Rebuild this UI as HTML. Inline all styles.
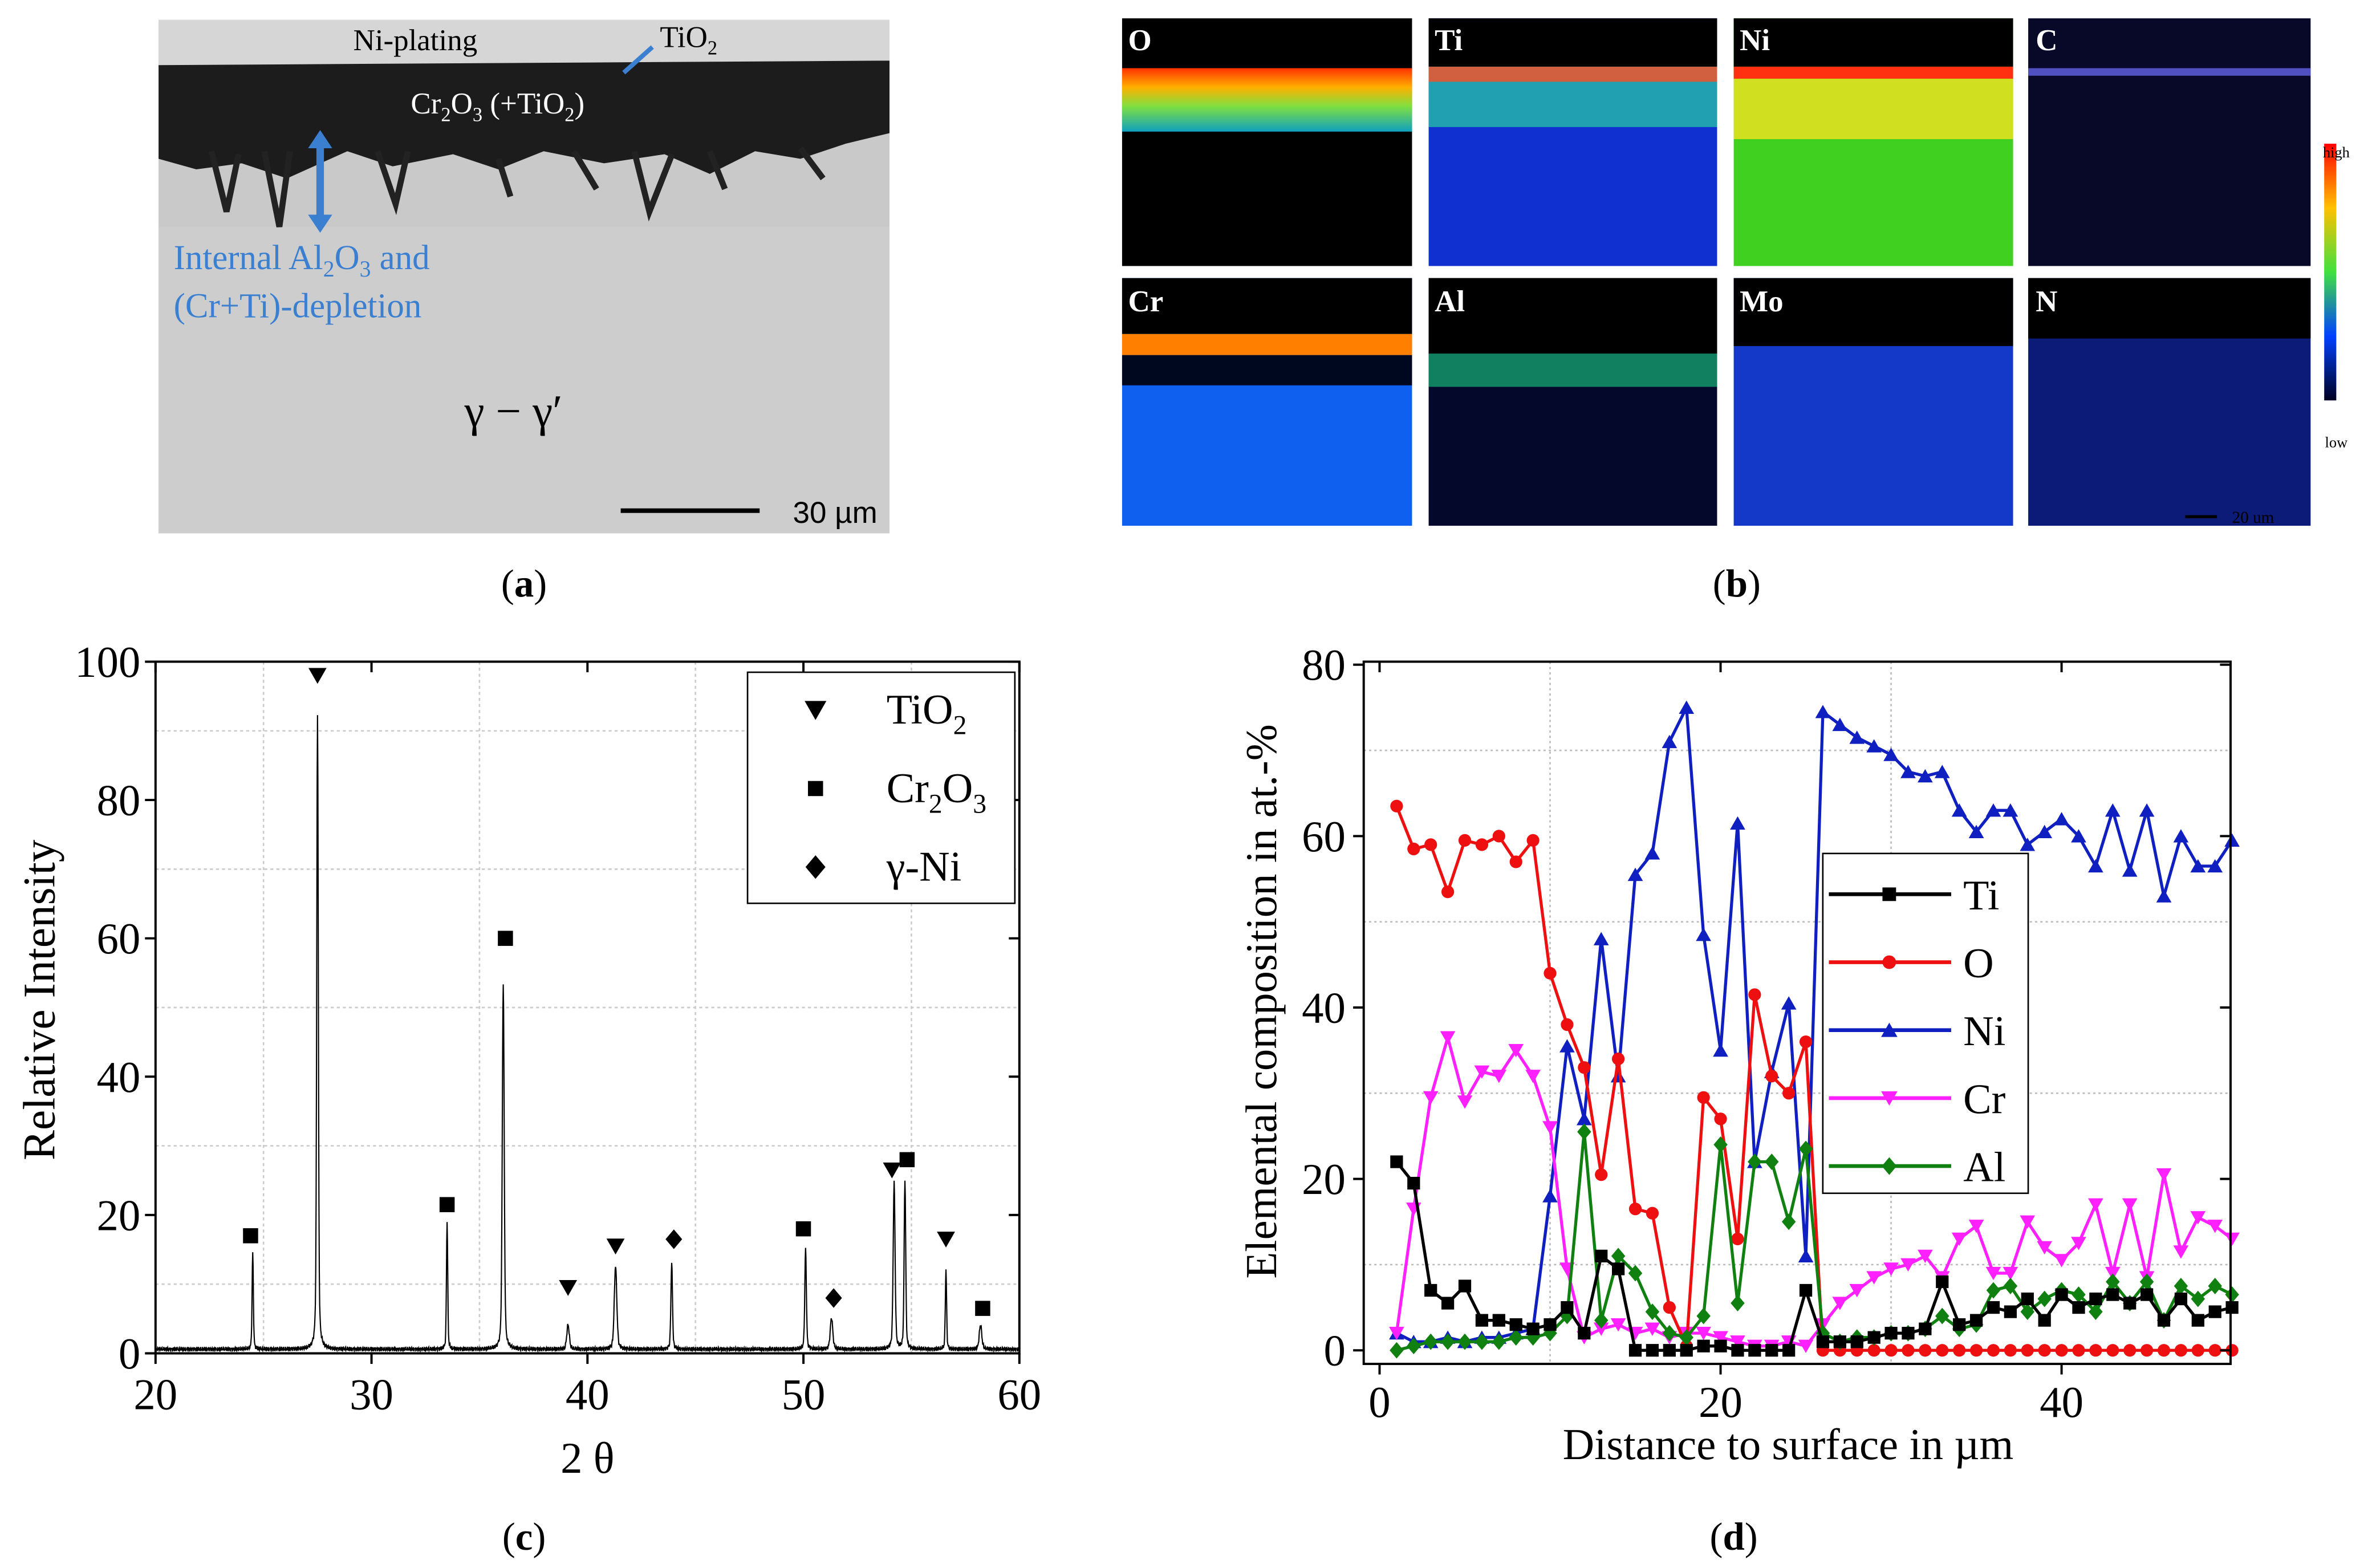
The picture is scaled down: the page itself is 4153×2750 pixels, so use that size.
<!DOCTYPE html>
<html><head><meta charset="utf-8">
<style>
html,body{margin:0;padding:0;background:#fff;}
svg{display:block;font-family:"Liberation Serif",serif;}
</style></head>
<body>
<svg id="fig" width="4153" height="2750" viewBox="0 0 1568 1038" xmlns="http://www.w3.org/2000/svg">
<defs>
<linearGradient id="gBand" x1="0" y1="0" x2="0" y2="1">
<stop offset="0" stop-color="#ff3000"/><stop offset="0.3" stop-color="#ffb000"/><stop offset="0.6" stop-color="#80e040"/><stop offset="1" stop-color="#10a0c0"/></linearGradient>
<linearGradient id="gCbar" x1="0" y1="0" x2="0" y2="1">
<stop offset="0" stop-color="#ff0000"/><stop offset="0.25" stop-color="#ffc000"/><stop offset="0.5" stop-color="#40e040"/><stop offset="0.75" stop-color="#0040ff"/><stop offset="1" stop-color="#000020"/></linearGradient>
</defs>

<!-- Panel a -->
<g>
<rect x="105" y="13" width="484" height="340" fill="#c9c9c9"/>
<rect x="105" y="13" width="484" height="30" fill="#d6d6d6"/>
<rect x="105" y="150" width="484" height="203" fill="#cdcdcd"/>
<path d="M105,43 L589,40 L589,88 L560,95 L530,105 L500,100 L470,115 L440,102 L400,108 L360,100 L330,112 L300,102 L260,110 L230,100 L190,118 L160,108 L130,112 L105,105 Z" fill="#1c1c1c"/>
<path d="M140,100 L150,140 L158,102 M175,100 L185,150 L192,100 M250,100 L262,135 L270,100 M420,100 L430,140 L445,102 M470,100 L480,125 M530,98 L545,118 M330,105 L338,130 M380,100 L395,125" stroke="#222" stroke-width="4" fill="none"/>
<text x="275" y="33" font-size="20" text-anchor="middle">Ni-plating</text>
<text x="437" y="31" font-size="20">TiO<tspan font-size="13" dy="5">2</tspan></text>
<line x1="432" y1="31" x2="413" y2="48" stroke="#3b7fd0" stroke-width="3"/>
<text x="272" y="75" font-size="20" fill="#fff">Cr<tspan font-size="13" dy="5">2</tspan><tspan dy="-5">O</tspan><tspan font-size="13" dy="5">3</tspan><tspan dy="-5"> (+TiO</tspan><tspan font-size="13" dy="5">2</tspan><tspan dy="-5">)</tspan></text>
<line x1="212" y1="94" x2="212" y2="146" stroke="#3b7fd0" stroke-width="5"/>
<path d="M204,98 L212,86 L220,98 Z M204,142 L212,154 L220,142 Z" fill="#3b7fd0"/>
<text x="115" y="178" font-size="23" fill="#3b7fd0">Internal Al<tspan font-size="15" dy="5">2</tspan><tspan dy="-5">O</tspan><tspan font-size="15" dy="5">3</tspan><tspan dy="-5"> and</tspan></text>
<text x="115" y="210" font-size="23" fill="#3b7fd0">(Cr+Ti)-depletion</text>
<text x="340" y="282" font-size="30" text-anchor="middle">γ − γ′</text>
<line x1="411" y1="338" x2="503" y2="338" stroke="#000" stroke-width="3"/>
<text x="525" y="346" font-size="20" font-family="Liberation Sans, sans-serif">30 µm</text>
</g>
<text x="347" y="395" font-size="26" text-anchor="middle">(<tspan font-weight="bold">a</tspan>)</text>

<!-- Panel b -->
<g font-family="Liberation Serif, serif" font-weight="bold">
<g><rect x="743" y="12" width="192" height="164" fill="#000"/><rect x="743" y="45" width="192" height="42" fill="url(#gBand)"/><text x="747" y="33" font-size="20" fill="#fff">O</text></g>
<g><rect x="946" y="12" width="191" height="164" fill="#1030d0"/><rect x="946" y="12" width="191" height="32" fill="#000"/><rect x="946" y="44" width="191" height="40" fill="#20a0b0"/><rect x="946" y="44" width="191" height="10" fill="#d06040"/><text x="950" y="33" font-size="20" fill="#fff">Ti</text></g>
<g><rect x="1148" y="12" width="185" height="164" fill="#40d020"/><rect x="1148" y="12" width="185" height="32" fill="#000"/><rect x="1148" y="44" width="185" height="8" fill="#ff3010"/><rect x="1148" y="52" width="185" height="40" fill="#d0e020"/><text x="1152" y="33" font-size="20" fill="#fff">Ni</text></g>
<g><rect x="1343" y="12" width="187" height="164" fill="#080828"/><rect x="1343" y="45" width="187" height="5" fill="#5050c0"/><text x="1348" y="33" font-size="20" fill="#fff">C</text></g>
<g><rect x="743" y="184" width="192" height="164" fill="#1060f0"/><rect x="743" y="184" width="192" height="37" fill="#000"/><rect x="743" y="221" width="192" height="14" fill="#ff8000"/><rect x="743" y="235" width="192" height="20" fill="#000820"/><text x="747" y="206" font-size="20" fill="#fff">Cr</text></g>
<g><rect x="946" y="184" width="191" height="164" fill="#04082a"/><rect x="946" y="184" width="191" height="50" fill="#000"/><rect x="946" y="234" width="191" height="22" fill="#108060"/><text x="950" y="206" font-size="20" fill="#fff">Al</text></g>
<g><rect x="1148" y="184" width="185" height="164" fill="#1438c8"/><rect x="1148" y="184" width="185" height="45" fill="#000"/><text x="1152" y="206" font-size="20" fill="#fff">Mo</text></g>
<g><rect x="1343" y="184" width="187" height="164" fill="#0c1a78"/><rect x="1343" y="184" width="187" height="40" fill="#000"/><text x="1348" y="206" font-size="20" fill="#fff">N</text></g>
<rect x="1539" y="95" width="8" height="170" fill="url(#gCbar)"/>
<text x="1547" y="104" font-size="10" font-weight="normal" text-anchor="middle">high</text>
<text x="1547" y="296" font-size="10" font-weight="normal" text-anchor="middle">low</text>
<line x1="1447" y1="342" x2="1468" y2="342" stroke="#000" stroke-width="2"/>
<text x="1478" y="346" font-size="11" font-weight="normal">20 um</text>
</g>
<text x="1150" y="395" font-size="26" text-anchor="middle">(<tspan font-weight="bold">b</tspan>)</text>

<!-- Panel c -->
<g id="chartC"></g>
<text x="347" y="1026" font-size="26" text-anchor="middle">(<tspan font-weight="bold">c</tspan>)</text>

<!-- Panel d -->
<g id="chartD"></g>
<text x="1148" y="1026" font-size="26" text-anchor="middle">(<tspan font-weight="bold">d</tspan>)</text>
</svg>

<script>
// ---- Panel c data ----
const xrdPeakPos = [24.5, 27.5, 33.5, 36.1, 39.1, 41.3, 43.9, 50.1, 51.3, 54.2, 54.7, 56.6, 58.2];
const xrdPeakHeight = [14, 92, 18.5, 53, 3.5, 12, 12.5, 14.5, 4.5, 24, 24.5, 11.5, 3.5];
const xrdPeakWidth = [0.04, 0.05, 0.04, 0.06, 0.08, 0.08, 0.05, 0.05, 0.08, 0.06, 0.05, 0.04, 0.08];
const markerType = ['sq','tri','sq','sq','tri','tri','dia','sq','dia','tri','sq','tri','sq'];
const markerX = [24.4, 27.5, 33.5, 36.2, 39.1, 41.3, 44.0, 50.0, 51.4, 54.1, 54.8, 56.6, 58.3];
const markerY = [17, 98, 21.5, 60, 9.5, 15.5, 16.5, 18, 8, 26.5, 28, 16.5, 6.5];
const xTicksC = [20, 30, 40, 50, 60];
const yTicksC = [0, 20, 40, 60, 80, 100];

// ---- Panel d data ----
const dist = [1,2,3,4,5,6,7,8,9,10,11,12,13,14,15,16,17,18,19,20,21,22,23,24,25,26,27,28,29,30,31,32,33,34,35,36,37,38,39,40,41,42,43,44,45,46,47,48,49,50];
const tiVals = [22,19.5,7,5.5,7.5,3.5,3.5,3,2.5,3,5,2,11,9.5,0,0,0,0,0.5,0.5,0,0,0,0,7,1,1,1,1.5,2,2,2.5,8,3,3.5,5,4.5,6,3.5,6.5,5,6,6.5,5.5,6.5,3.5,6,3.5,4.5,5];
const oVals = [63.5,58.5,59,53.5,59.5,59,60,57,59.5,44,38,33,20.5,34,16.5,16,5,0.5,29.5,27,13,41.5,32,30,36,0,0,0,0,0,0,0,0,0,0,0,0,0,0,0,0,0,0,0,0,0,0,0,0,0];
const niVals = [2,1,1,1.5,1,1.5,1.5,2,2.5,18,35.5,27,48,32,55.5,58,71,75,48.5,35,61.5,22,32.5,40.5,11,74.5,73,71.5,70.5,69.5,67.5,67,67.5,63,60.5,63,63,59,60.5,62,60,56.5,63,56,63,53,60,56.5,56.5,59.5];
const crVals = [2,16.5,29.5,36.5,29,32.5,32,35,32,26,9.5,1.5,2.5,3,2,2.5,1.5,2,2,1.5,1,0.5,0.5,1,0.5,3,5.5,7,8.5,9.5,10,11,8.5,13,14.5,9,9,15,12,10.5,12.5,17,9,17,8.5,20.5,11.5,15.5,14.5,13];
const alVals = [0,0.5,1,1,1,1,1,1.5,1.5,2,4,25.5,3.5,11,9,4.5,2,1.5,4,24,5.5,22,22,15,23.5,2,1,1.5,1.5,2,2,2.5,4,2.5,3,7,7.5,4.5,6,7,6.5,4.5,8,5.5,8,3.5,7.5,6,7.5,6.5];
const seriesNames = ['Ti','O','Ni','Cr','Al'];
const xTicksD = [0, 20, 40];
const yTicksD = [0, 20, 40, 60, 80];

const NS = 'http://www.w3.org/2000/svg';
function mk(tag, attrs, parent){const e=document.createElementNS(NS,tag);for(const k in attrs)e.setAttribute(k,attrs[k]);parent.appendChild(e);return e;}

function marker(type,x,y,s,color,parent){
  let e;
  if(type==='sq'){e=mk('rect',{x:x-s,y:y-s,width:2*s,height:2*s,fill:color},parent);}
  else if(type==='circ'){e=mk('circle',{cx:x,cy:y,r:s,fill:color},parent);}
  else if(type==='tri'){e=mk('path',{d:`M${x-s*1.2},${y-s} L${x+s*1.2},${y-s} L${x},${y+s*1.1} Z`,fill:color},parent);}
  else if(type==='triup'){e=mk('path',{d:`M${x-s*1.2},${y+s} L${x+s*1.2},${y+s} L${x},${y-s*1.1} Z`,fill:color},parent);}
  else {e=mk('path',{d:`M${x},${y-s*1.3} L${x+s*1.1},${y} L${x},${y+s*1.3} L${x-s*1.1},${y} Z`,fill:color},parent);}
  return e;
}

// ---------- Chart C ----------
(function(){
  const g=document.getElementById('chartC');
  const L=103,R=675,T=438,B=896;
  const xs=v=>L+(v-20)/40*(R-L);
  const ys=v=>B-v/100*(B-T);
  [25,35,45,55].forEach(v=>{const l=mk('line',{x1:xs(v),y1:T,x2:xs(v),y2:B,stroke:'#ccc','stroke-width':1,'stroke-dasharray':'2,2'},g);
    
    });
  [10,30,50,70,90].forEach(v=>{const l=mk('line',{x1:L,y1:ys(v),x2:R,y2:ys(v),stroke:'#ccc','stroke-width':1,'stroke-dasharray':'2,2'},g);
    
    });
  let d='';
  for(let i=0;i<=2400;i++){
    const x=20+i*40/2400;
    let y=0.6+0.35*Math.sin(i*1.7)*Math.cos(i*0.53);
    for(let p=0;p<xrdPeakPos.length;p++){const w=xrdPeakWidth[p];const u=(x-xrdPeakPos[p])/w;y+=xrdPeakHeight[p]*(0.7*Math.exp(-u*u)+0.3/(1+u*u));}
    d+=(i?'L':'M')+xs(x).toFixed(2)+','+ys(y).toFixed(2);
  }
  const sp=mk('path',{d:d,fill:'none',stroke:'#000','stroke-width':0.8},g);
  
  
  for(let i=0;i<markerX.length;i++){
    const m=marker(markerType[i],xs(markerX[i]),ys(markerY[i]),5,'#000',g);
    
    
  }
  const fr=mk('rect',{x:L,y:T,width:R-L,height:B-T,fill:'none',stroke:'#000','stroke-width':1.5},g);
  
  
  xTicksC.forEach(v=>{
    mk('line',{x1:xs(v),y1:B,x2:xs(v),y2:B+7,stroke:'#000','stroke-width':1.5},g);
    mk('line',{x1:xs(v),y1:T,x2:xs(v),y2:T+7,stroke:'#000','stroke-width':1.5},g);
    const t=mk('text',{x:xs(v),y:B+37,'font-size':29,'text-anchor':'middle'},g);t.textContent=v;
    
    
  });
  yTicksC.forEach(v=>{
    mk('line',{x1:L-7,y1:ys(v),x2:L,y2:ys(v),stroke:'#000','stroke-width':1.5},g);
    mk('line',{x1:R-7,y1:ys(v),x2:R,y2:ys(v),stroke:'#000','stroke-width':1.5},g);
    const t=mk('text',{x:L-10,y:ys(v)+10,'font-size':29,'text-anchor':'end'},g);t.textContent=v;
    
    
  });
  const xt=mk('text',{x:389,y:975,'font-size':29,'text-anchor':'middle'},g);xt.textContent='2 θ';
  
  
  const yt=mk('text',{x:0,y:0,'font-size':30,'text-anchor':'middle',transform:'translate(36,662) rotate(-90)'},g);yt.textContent='Relative Intensity';
  
  
  const lg=mk('g',{},g);
  
  
  mk('rect',{x:495,y:445,width:177,height:153,fill:'#fff',stroke:'#000','stroke-width':1},lg);
  marker('tri',540,470,6,'#000',lg);marker('sq',540,522,5,'#000',lg);marker('dia',540,574,6,'#000',lg);
  const l1=mk('text',{x:587,y:479,'font-size':28},lg);l1.innerHTML='TiO<tspan font-size="18" dy="7">2</tspan>';
  
  
  const l2=mk('text',{x:587,y:531,'font-size':28},lg);l2.innerHTML='Cr<tspan font-size="18" dy="7">2</tspan><tspan dy="-7">O</tspan><tspan font-size="18" dy="7">3</tspan>';
  
  
  const l3=mk('text',{x:587,y:583,'font-size':28},lg);l3.textContent='γ-Ni';
  
  
})();

// ---------- Chart D ----------
(function(){
  const g=document.getElementById('chartD');
  const L=903,R=1477,T=438,B=903;
  const x0=913.5, xk=11.29;
  const xs=v=>x0+v*xk;
  const y0=894, yk=(894-440)/80;
  const ys=v=>y0-v*yk;
  [10,30,50,70].forEach(v=>{const l=mk('line',{x1:L,y1:ys(v),x2:R,y2:ys(v),stroke:'#bbb','stroke-width':1,'stroke-dasharray':'1.5,2'},g);
    
    });
  [10,30].forEach(v=>{const l=mk('line',{x1:xs(v),y1:T,x2:xs(v),y2:B,stroke:'#bbb','stroke-width':1,'stroke-dasharray':'1.5,2'},g);
    
    });
  const all=[tiVals,oVals,niVals,crVals,alVals];
  const colors=['#000','#ee1010','#1020c0','#ff20ff','#108010'];
  const mks=['sq','circ','triup','tri','dia'];
  const order=[2,3,1,4,0];
  order.forEach(si=>{
    const vals=all[si];
    const sg=mk('g',{},g);
    
    
    let d='';
    vals.forEach((v,i)=>{d+=(i?'L':'M')+xs(dist[i]).toFixed(2)+','+ys(v).toFixed(2);});
    mk('path',{d:d,fill:'none',stroke:colors[si],'stroke-width':2},sg);
    vals.forEach((v,i)=>{
      const m=marker(mks[si],xs(dist[i]),ys(v),4.2,colors[si],sg);
      
      
    });
  });
  const fr=mk('rect',{x:L,y:T,width:R-L,height:B-T,fill:'none',stroke:'#000','stroke-width':1.5},g);
  
  
  xTicksD.forEach(v=>{
    mk('line',{x1:xs(v),y1:B,x2:xs(v),y2:B+7,stroke:'#000','stroke-width':1.5},g);
    mk('line',{x1:xs(v),y1:T,x2:xs(v),y2:T+7,stroke:'#000','stroke-width':1.5},g);
    const t=mk('text',{x:xs(v),y:B+35,'font-size':29,'text-anchor':'middle'},g);t.textContent=v;
    
    
  });
  yTicksD.forEach(v=>{
    mk('line',{x1:L-7,y1:ys(v),x2:L,y2:ys(v),stroke:'#000','stroke-width':1.5},g);
    mk('line',{x1:R-7,y1:ys(v),x2:R,y2:ys(v),stroke:'#000','stroke-width':1.5},g);
    const t=mk('text',{x:L-12,y:ys(v)+10,'font-size':29,'text-anchor':'end'},g);t.textContent=v;
    
    
  });
  const xt=mk('text',{x:1184,y:966,'font-size':29,'text-anchor':'middle'},g);xt.textContent='Distance to surface in µm';
  
  
  const yt=mk('text',{x:0,y:0,'font-size':29,'text-anchor':'middle',transform:'translate(845,663) rotate(-90)'},g);yt.textContent='Elemental composition in at.-%';
  
  
  const lg=mk('g',{},g);
  
  
  mk('rect',{x:1207,y:565,width:136,height:225,fill:'#fff',stroke:'#000','stroke-width':1},lg);
  seriesNames.forEach((n,i)=>{
    const y=592+i*45;
    mk('line',{x1:1211,y1:y,x2:1292,y2:y,stroke:colors[i],'stroke-width':2.5},lg);
    marker(mks[i],1251,y,4.5,colors[i],lg);
    const t=mk('text',{x:1300,y:y+10,'font-size':28},lg);t.textContent=n;
    
    
  });
})();
</script>
</body></html>
